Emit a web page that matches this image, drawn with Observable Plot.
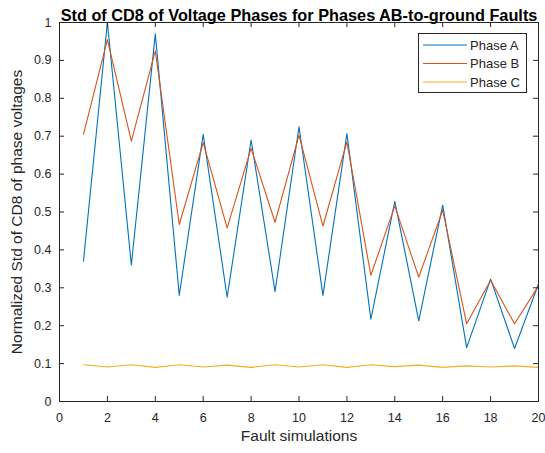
<!DOCTYPE html>
<html><head><meta charset="utf-8">
<script src="https://cdn.jsdelivr.net/npm/d3@7"></script>
<script src="https://cdn.jsdelivr.net/npm/@observablehq/plot@0.6"></script>
<style>
html,body{margin:0;padding:0;background:#fff;}
svg{display:block;}
</style>
</head><body>
<div id="chart"></div>
<script>
const titleText = "Std of CD8 of Voltage Phases for Phases AB-to-ground Faults";
const xLabel = "Fault simulations";
const yLabel = "Normalized Std of CD8 of phase voltages";
const simulations = [1,2,3,4,5,6,7,8,9,10,11,12,13,14,15,16,17,18,19,20];
const phaseA = [0.37,1.0,0.36,0.97,0.28,0.705,0.275,0.69,0.29,0.725,0.28,0.707,0.217,0.528,0.213,0.518,0.142,0.323,0.14,0.31];
const phaseB = [0.705,0.955,0.687,0.925,0.467,0.683,0.458,0.668,0.473,0.703,0.463,0.685,0.333,0.516,0.328,0.505,0.205,0.32,0.205,0.305];
const phaseC = [0.097,0.091,0.097,0.09,0.097,0.091,0.096,0.09,0.097,0.091,0.097,0.09,0.097,0.092,0.096,0.09,0.094,0.091,0.094,0.09];
const seriesNames = ["Phase A","Phase B","Phase C"];
const seriesColors = ["#0072BD","#D95319","#EDB120"];
const xTicks = [0,2,4,6,8,10,12,14,16,18,20];
const yTicks = [0,0.1,0.2,0.3,0.4,0.5,0.6,0.7,0.8,0.9,1];

const data = [];
[phaseA, phaseB, phaseC].forEach((arr, i) => arr.forEach((v, j) => data.push({x: simulations[j], y: v, s: seriesNames[i]})));

const axisColor = "#262626";
const tickLenX = 20 * 5 / 478;
const tickLenY = 5 / 379;

const plot = Plot.plot({
  width: 545, height: 453,
  marginLeft: 59, marginRight: 7, marginTop: 22, marginBottom: 52,
  style: {fontFamily: "'Liberation Sans', Arial, sans-serif", background: "#fff", color: axisColor},
  x: {domain: [0, 20]},
  y: {domain: [0, 1]},
  color: {domain: seriesNames, range: seriesColors},
  marks: [
    Plot.line(data, {x: "x", y: "y", z: "s", stroke: "s", strokeWidth: 1.1}),
    Plot.frame({stroke: axisColor, strokeWidth: 1}),
    Plot.ruleX(xTicks, {x: d => d, y1: 0, y2: tickLenY, stroke: axisColor}),
    Plot.ruleX(xTicks, {x: d => d, y1: 1 - tickLenY, y2: 1, stroke: axisColor}),
    Plot.ruleY(yTicks, {y: d => d, x1: 0, x2: tickLenX, stroke: axisColor}),
    Plot.ruleY(yTicks, {y: d => d, x1: 20 - tickLenX, x2: 20, stroke: axisColor}),
    Plot.axisX(xTicks, {tickSize: 0, tickPadding: 12, fontSize: 12.5, label: null, fill: axisColor}),
    Plot.axisY(yTicks, {tickSize: 0, tickPadding: 8, fontSize: 12.5, label: null, fill: axisColor, tickFormat: d => String(+d.toFixed(1))}),
    Plot.text([titleText], {frameAnchor: "top", dy: -13.5, fontSize: 16.3, fontWeight: "bold", fill: "#000", textAnchor: "middle"}),
    Plot.text([xLabel], {frameAnchor: "bottom", dy: 39, fontSize: 15.5, fill: axisColor, textAnchor: "middle"}),
    Plot.text([yLabel], {frameAnchor: "left", dx: -42, rotate: -90, fontSize: 15.5, fill: axisColor, textAnchor: "middle"})
  ]
});
document.getElementById("chart").appendChild(plot);

// legend (MATLAB-style box, northeast)
const svg = d3.select(plot);
const lg = svg.append("g").attr("font-family", "'Liberation Sans', Arial, sans-serif").attr("font-size", 13).attr("text-anchor", "start");
lg.append("rect").attr("x", 418.5).attr("y", 33.5).attr("width", 108).attr("height", 59)
  .attr("fill", "#fff").attr("stroke", axisColor).attr("stroke-width", 1);
seriesNames.forEach((n, i) => {
  const yy = 45 + i * 18.5;
  lg.append("line").attr("x1", 423).attr("x2", 467).attr("y1", yy).attr("y2", yy)
    .attr("stroke", seriesColors[i]).attr("stroke-width", 1.1);
  lg.append("text").attr("x", 470).attr("y", yy).attr("dy", "0.35em").attr("fill", axisColor).attr("text-anchor", "start").text(n);
});
</script>
</body></html>
